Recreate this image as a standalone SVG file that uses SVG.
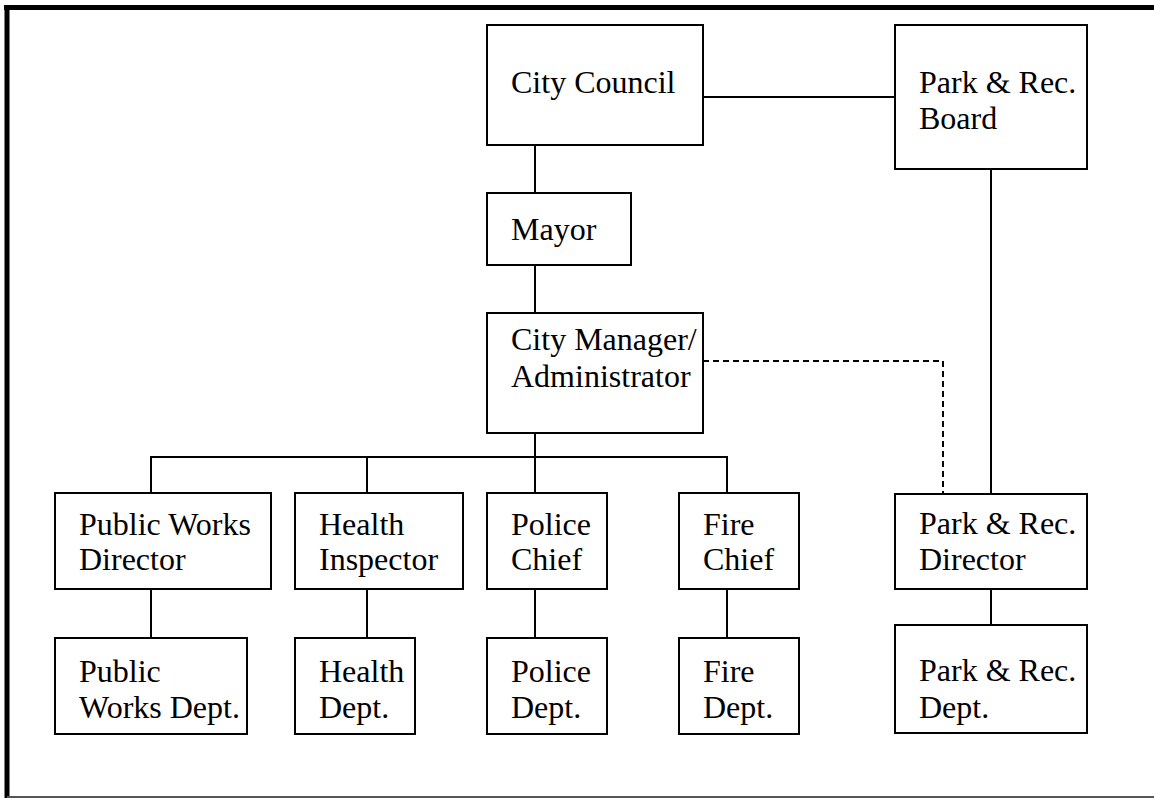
<svg xmlns="http://www.w3.org/2000/svg" width="1154" height="798" viewBox="0 0 1154 798">
  <style>
    .box { fill: #ffffff; stroke: #000000; stroke-width: 2; }
    .lbl { font-family: "Liberation Serif", "Times New Roman", serif; font-size: 32px; fill: #000000; }
    .conn { fill: none; stroke: #000000; stroke-width: 2; }
    .dash { stroke-dasharray: 6 4; }
  </style>
  <rect x="0" y="0" width="1154" height="798" fill="#ffffff"/>
  <g id="frame">
    <line x1="4" y1="7.5" x2="1154" y2="7.5" stroke="#000" stroke-width="5"/>
    <line x1="7" y1="5" x2="7" y2="798" stroke="#000" stroke-width="5"/>
    <line x1="7" y1="797" x2="1154" y2="797" stroke="#555" stroke-width="2"/>
  </g>
  <g id="connectors">
    <line class="conn" x1="703" y1="97" x2="895" y2="97"/>
    <line class="conn" x1="535" y1="145" x2="535" y2="193"/>
    <line class="conn" x1="535" y1="265" x2="535" y2="313"/>
    <line class="conn" x1="991" y1="169" x2="991" y2="494"/>
    <line class="conn" x1="535" y1="433" x2="535" y2="457"/>
    <line class="conn" x1="150" y1="457" x2="728" y2="457"/>
    <line class="conn" x1="151" y1="457" x2="151" y2="493"/>
    <line class="conn" x1="367" y1="457" x2="367" y2="493"/>
    <line class="conn" x1="535" y1="457" x2="535" y2="493"/>
    <line class="conn" x1="727" y1="457" x2="727" y2="493"/>
    <polyline class="conn dash" points="703,361 943,361 943,494"/>
    <line class="conn" x1="151" y1="589" x2="151" y2="638"/>
    <line class="conn" x1="367" y1="589" x2="367" y2="638"/>
    <line class="conn" x1="535" y1="589" x2="535" y2="638"/>
    <line class="conn" x1="727" y1="589" x2="727" y2="638"/>
    <line class="conn" x1="991" y1="589" x2="991" y2="625"/>
  </g>
  <g id="city-council">
    <rect class="box" x="487" y="25" width="216" height="120"/>
    <text class="lbl" x="511" y="93">City Council</text>
  </g>
  <g id="park-rec-board">
    <rect class="box" x="895" y="25" width="192" height="144"/>
    <text class="lbl" x="919" y="93">Park &amp; Rec.</text>
    <text class="lbl" x="919" y="129">Board</text>
  </g>
  <g id="mayor">
    <rect class="box" x="487" y="193" width="144" height="72"/>
    <text class="lbl" x="511" y="240">Mayor</text>
  </g>
  <g id="city-manager">
    <rect class="box" x="487" y="313" width="216" height="120"/>
    <text class="lbl" x="511" y="350">City Manager/</text>
    <text class="lbl" x="511" y="387">Administrator</text>
  </g>
  <g id="public-works-director">
    <rect class="box" x="55" y="493" width="216" height="96"/>
    <text class="lbl" x="79" y="535">Public Works</text>
    <text class="lbl" x="79" y="570">Director</text>
  </g>
  <g id="health-inspector">
    <rect class="box" x="295" y="493" width="168" height="96"/>
    <text class="lbl" x="319" y="535">Health</text>
    <text class="lbl" x="319" y="570">Inspector</text>
  </g>
  <g id="police-chief">
    <rect class="box" x="487" y="493" width="120" height="96"/>
    <text class="lbl" x="511" y="535">Police</text>
    <text class="lbl" x="511" y="570">Chief</text>
  </g>
  <g id="fire-chief">
    <rect class="box" x="679" y="493" width="120" height="96"/>
    <text class="lbl" x="703" y="535">Fire</text>
    <text class="lbl" x="703" y="570">Chief</text>
  </g>
  <g id="park-rec-director">
    <rect class="box" x="895" y="494" width="192" height="95"/>
    <text class="lbl" x="919" y="534">Park &amp; Rec.</text>
    <text class="lbl" x="919" y="570">Director</text>
  </g>
  <g id="public-works-dept">
    <rect class="box" x="55" y="638" width="192" height="96"/>
    <text class="lbl" x="79" y="682">Public</text>
    <text class="lbl" x="79" y="718">Works Dept.</text>
  </g>
  <g id="health-dept">
    <rect class="box" x="295" y="638" width="120" height="96"/>
    <text class="lbl" x="319" y="682">Health</text>
    <text class="lbl" x="319" y="718">Dept.</text>
  </g>
  <g id="police-dept">
    <rect class="box" x="487" y="638" width="120" height="96"/>
    <text class="lbl" x="511" y="682">Police</text>
    <text class="lbl" x="511" y="718">Dept.</text>
  </g>
  <g id="fire-dept">
    <rect class="box" x="679" y="638" width="120" height="96"/>
    <text class="lbl" x="703" y="682">Fire</text>
    <text class="lbl" x="703" y="718">Dept.</text>
  </g>
  <g id="park-rec-dept">
    <rect class="box" x="895" y="625" width="192" height="108"/>
    <text class="lbl" x="919" y="681">Park &amp; Rec.</text>
    <text class="lbl" x="919" y="718">Dept.</text>
  </g>
</svg>
